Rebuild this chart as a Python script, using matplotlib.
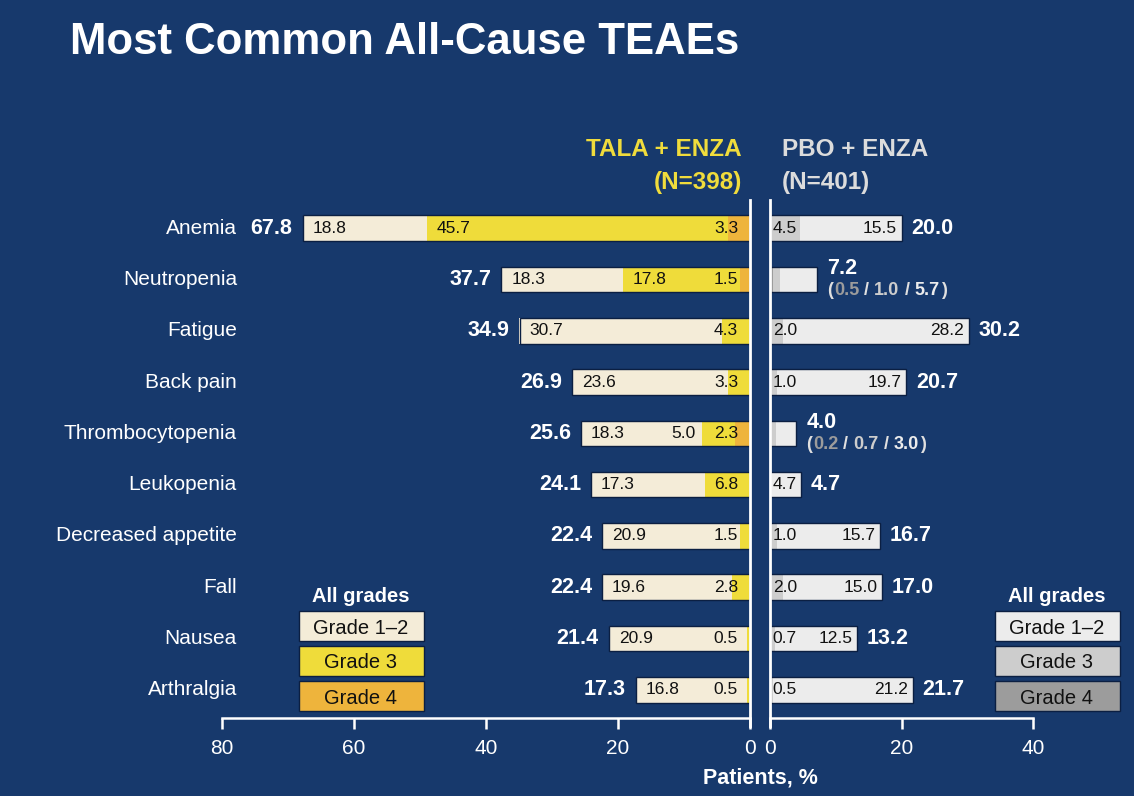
import matplotlib
matplotlib.use('Agg')
import matplotlib.pyplot as plt
from matplotlib import font_manager as fm
from matplotlib.patches import Rectangle
import matplotlib.transforms as mtransforms

# data (% of patients)
categories = ['Anemia', 'Neutropenia', 'Fatigue', 'Back pain', 'Thrombocytopenia',
              'Leukopenia', 'Decreased appetite', 'Fall', 'Nausea', 'Arthralgia']
tala_g12 = [18.8, 18.3, 30.7, 23.6, 18.3, 17.3, 20.9, 19.6, 20.9, 16.8]
tala_g3 = [45.7, 17.8, 4.3, 3.3, 5.0, 6.8, 1.5, 2.8, 0.5, 0.5]
tala_g4 = [3.3, 1.5, 0.0, 0.0, 2.3, 0.0, 0.0, 0.0, 0.0, 0.0]
tala_all = [67.8, 37.7, 34.9, 26.9, 25.6, 24.1, 22.4, 22.4, 21.4, 17.3]
pbo_g12 = [15.5, 5.7, 28.2, 19.7, 3.0, 4.7, 15.7, 15.0, 12.5, 21.2]
pbo_g3 = [4.5, 1.0, 2.0, 1.0, 0.7, 0.0, 1.0, 2.0, 0.7, 0.5]
pbo_g4 = [0.0, 0.5, 0.0, 0.0, 0.2, 0.0, 0.0, 0.0, 0.0, 0.0]
pbo_all = [20.0, 7.2, 30.2, 20.7, 4.0, 4.7, 16.7, 17.0, 13.2, 21.7]
pbo_split = [False, True, False, False, True, False, False, False, False, False]

left_ticks = [80, 60, 40, 20, 0]
right_ticks = [0, 20, 40]

BG = '#17396c'
TALA_COL = ['#f4ecd8', '#efdc3a', '#eeb43c']
PBO_COL = ['#ececec', '#cdcdcd', '#9c9c9c']

names = {f.name for f in fm.fontManager.ttflist}
NARROW = 'Liberation Sans Narrow' if 'Liberation Sans Narrow' in names else 'Liberation Sans'
plt.rcParams['font.family'] = ['Liberation Sans', 'DejaVu Sans']

W, H = 1134, 796
fig = plt.figure(figsize=(W / 100, H / 100), dpi=100)
fig.patch.set_facecolor(BG)

def fx(px):
    return px / W

def fy(py):
    return 1 - py / H

axL = fig.add_axes([fx(222), fy(718), fx(750) - fx(222), fy(200) - fy(718)])
axR = fig.add_axes([fx(770), fy(718), fx(1033) - fx(770), fy(200) - fy(718)])

n = len(categories)
y = list(range(n))
bh = 0.5

for ax in (axL, axR):
    ax.set_facecolor('none')
    ax.set_ylim(n - 0.45, -0.55)
    ax.set_yticks([])
    for s in ('top', 'left', 'right'):
        ax.spines[s].set_visible(False)
    ax.spines['bottom'].set_color('white')
    ax.spines['bottom'].set_linewidth(1.8)
    ax.tick_params(axis='x', colors='white', length=8, width=1.8, pad=7, labelsize=15)
    ax.axvline(0, ymin=-0.015, ymax=1, color='white', lw=2, clip_on=False)

axL.set_xlim(80, 0)
axL.set_xticks(left_ticks)
axR.set_xlim(0, 40)
axR.set_xticks(right_ticks)

# left bars: grade 4 at zero, then grade 3, then grade 1-2
b4 = tala_g4
b3 = [a + b for a, b in zip(tala_g4, tala_g3)]
axL.barh(y, tala_g4, height=bh, color=TALA_COL[2], linewidth=0)
axL.barh(y, tala_g3, left=b4, height=bh, color=TALA_COL[1], linewidth=0)
axL.barh(y, tala_g12, left=b3, height=bh, color=TALA_COL[0], linewidth=0)
axL.barh(y, tala_all, height=bh, color='none', edgecolor='#0b1f42', linewidth=1)

p4 = pbo_g4
p3 = [a + b for a, b in zip(pbo_g4, pbo_g3)]
axR.barh(y, pbo_g4, height=bh, color=PBO_COL[2], linewidth=0)
axR.barh(y, pbo_g3, left=p4, height=bh, color=PBO_COL[1], linewidth=0)
axR.barh(y, pbo_g12, left=p3, height=bh, color=PBO_COL[0], linewidth=0)
axR.barh(y, pbo_all, height=bh, color='none', edgecolor='#0b1f42', linewidth=1)

inner = dict(fontsize=12.5, color='#111111', va='center')
tot = dict(fontsize=15.5, color='white', fontweight='bold', va='center')

renderer = fig.canvas.get_renderer()

for i in y:
    end = tala_g4[i] + tala_g3[i] + tala_g12[i]
    axL.text(end - 1.5, i, f'{tala_g12[i]:.1f}', ha='left', **inner)
    if tala_g4[i] > 0:
        axL.text(1.8, i, f'{tala_g4[i]:.1f}', ha='right', **inner)
        if tala_g3[i] < 8:
            axL.text(8.3, i, f'{tala_g3[i]:.1f}', ha='right', **inner)
        else:
            axL.text(b3[i] - 1.5, i, f'{tala_g3[i]:.1f}', ha='left', **inner)
    else:
        axL.text(1.8, i, f'{tala_g3[i]:.1f}', ha='right', **inner)
    axL.text(tala_all[i] + 1.5, i, f'{tala_all[i]:.1f}', ha='right', **tot)

    if pbo_split[i]:
        axR.text(pbo_all[i] + 1.5, i - 0.22, f'{pbo_all[i]:.1f}', ha='left', **tot)
        # (g4 / g3 / g1-2), each number in its grade colour
        parts = [('(', '#e0e0e0', 1), (f'{pbo_g4[i]:.1f}', PBO_COL[2], 5),
                 ('/', '#e0e0e0', 5), (f'{pbo_g3[i]:.1f}', PBO_COL[1], 5),
                 ('/', '#e0e0e0', 5), (f'{pbo_g12[i]:.1f}', PBO_COL[0], 1),
                 (')', '#e0e0e0', 0)]
        dx = 0
        for txt, col, gap in parts:
            tr = mtransforms.offset_copy(axR.transData, fig=fig, x=dx, y=0, units='dots')
            t = axR.text(pbo_all[i] + 1.5, i + 0.3, txt, transform=tr, ha='left',
                         va='baseline', fontsize=13, fontweight='bold', color=col)
            dx += t.get_window_extent(renderer).width + gap
    else:
        if pbo_g3[i] > 0:
            axR.text(0.4, i, f'{pbo_g3[i]:.1f}', ha='left', **inner)
        axR.text(pbo_all[i] - 0.7, i, f'{pbo_g12[i]:.1f}', ha='right', **inner)
        axR.text(pbo_all[i] + 1.5, i, f'{pbo_all[i]:.1f}', ha='left', **tot)

# category labels
trans = mtransforms.blended_transform_factory(axL.transAxes, axL.transData)
cat_size = 17 if NARROW != 'Liberation Sans' else 15
for i, c in enumerate(categories):
    axL.text(15 / 528, i, c, transform=trans, ha='right', va='center',
             fontsize=cat_size, color='white', family=NARROW)

# title and headers
fig.text(fx(70), fy(42), 'Most Common All-Cause TEAEs', fontsize=31.5, fontweight='bold',
         color='white', ha='left', va='center')
hdr = dict(fontsize=17.5, fontweight='bold', va='center')
fig.text(fx(742), fy(150), 'TALA + ENZA', color='#f0dc3c', ha='right', **hdr)
fig.text(fx(742), fy(182), '(N=398)', color='#f0dc3c', ha='right', **hdr)
fig.text(fx(782), fy(150), 'PBO + ENZA', color='#dcdcdc', ha='left', **hdr)
fig.text(fx(782), fy(182), '(N=401)', color='#dcdcdc', ha='left', **hdr)
fig.text(fx(760), fy(778), 'Patients, %', fontsize=15.5, fontweight='bold', color='white',
         ha='center', va='center', family=NARROW)

# legends
grade_names = ['Grade 1\u20132', 'Grade 3', 'Grade 4']
for x0, cols in ((299, TALA_COL), (995, PBO_COL)):
    fig.text(fx(x0 + 62), fy(596), 'All grades', fontsize=14.5, fontweight='bold',
             color='white', ha='center', va='center')
    for k in range(3):
        top = 611 + k * 35
        fig.patches.append(Rectangle((fx(x0), fy(top + 30)), fx(125), 30 / H,
                                     transform=fig.transFigure, facecolor=cols[k],
                                     edgecolor='#0b1f42', linewidth=1))
        fig.text(fx(x0 + 62), fy(top + 15), grade_names[k], fontsize=14.5,
                 color='#111111', ha='center', va='center_baseline')

fig.savefig('out.png', dpi=100, facecolor=BG)
